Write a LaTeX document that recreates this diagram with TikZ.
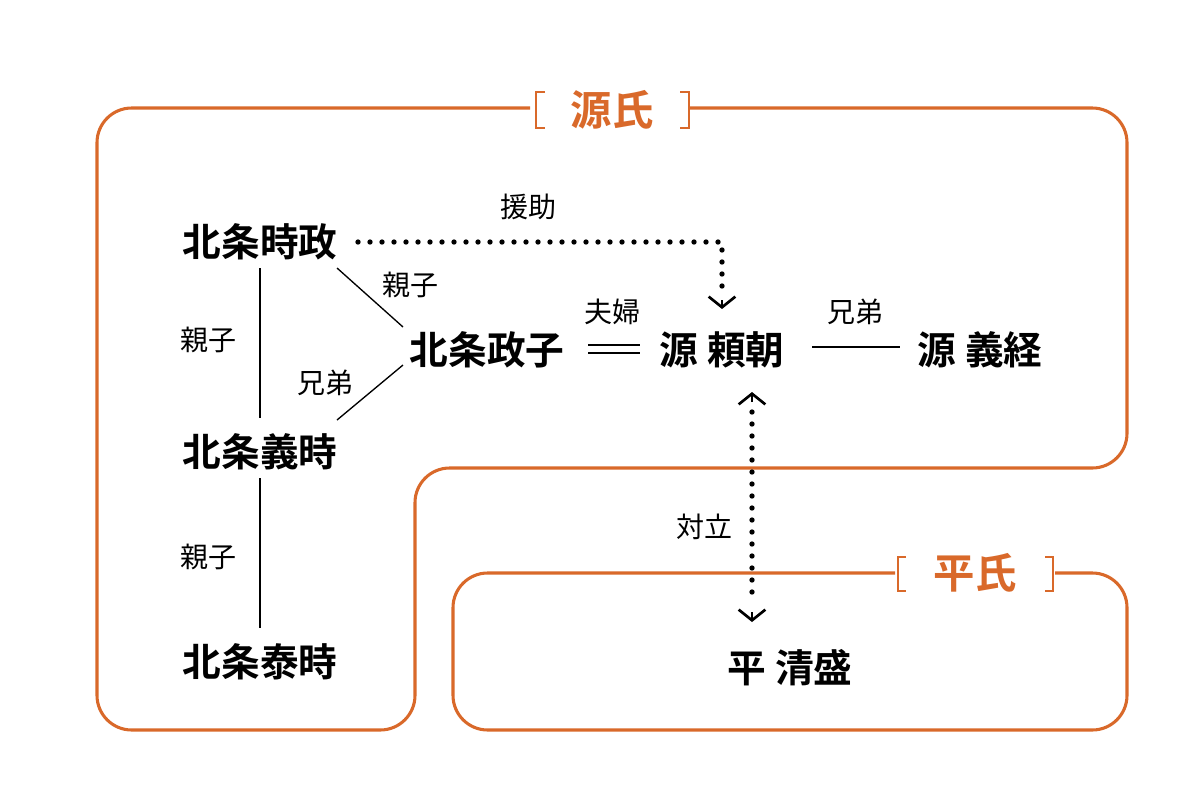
\documentclass[tikz,border=0pt]{standalone}
\usepackage{fontspec}
\setmainfont{Noto Sans CJK JP}[BoldFont={Noto Sans CJK JP Bold}]
\usetikzlibrary{arrows.meta}
\definecolor{og}{HTML}{D9692A}
\begin{document}
\begin{tikzpicture}[x=0.75pt,y=-0.75pt,
  frame/.style={draw=og,line width=2.3pt,rounded corners=26pt},
  brk/.style={draw=og,line width=1.6pt},
  clan/.style={text=og,font=\fontsize{31}{34}\selectfont\bfseries},
  person/.style={font=\fontsize{29}{32}\selectfont\bfseries,inner sep=0pt},
  rel/.style={font=\fontsize{21}{24}\selectfont,inner sep=0pt},
  ln/.style={line width=1pt},
  dots/.style={line width=4pt,line cap=round,dash pattern=on 0pt off 9pt},
  ar/.style={line width=2pt,-{Straight Barb[length=8pt,width=20pt]}}]
\useasboundingbox (0,0) rectangle (1200,800);
% Genji frame
\draw[frame] (690,108) -- (1127,108) -- (1127,468) -- (415,468) -- (415,730) -- (97,730) -- (97,108) -- (530,108);
\draw[brk] (545,92) -- (536,92) -- (536,128) -- (545,128);
\draw[brk] (680,92) -- (689,92) -- (689,128) -- (680,128);
\node[clan] (genji) at (612,110) {源氏};
% Heishi frame
\draw[frame] (1055,573) -- (1127,573) -- (1127,730) -- (453,730) -- (453,573) -- (895,573);
\draw[brk] (906,557) -- (898,557) -- (898,591) -- (906,591);
\draw[brk] (1045,557) -- (1053,557) -- (1053,591) -- (1045,591);
\node[clan] (heishi) at (975,573) {平氏};
% people
\node[person] (tokimasa) at (260,242) {北条時政};
\node[person] (masako) at (487,350) {北条政子};
\node[person] (yoritomo) at (722,350) {源 頼朝};
\node[person] (yoshitsune) at (980,350) {源 義経};
\node[person] (yoshitoki) at (260,452) {北条義時};
\node[person] (yasutoki) at (260,662) {北条泰時};
\node[person] (kiyomori) at (790,668) {平 清盛};
% labels
\node[rel] at (528,207) {援助};
\node[rel] at (410,285) {親子};
\node[rel] at (612,312) {夫婦};
\node[rel] at (855,312) {兄弟};
\node[rel] at (208,340) {親子};
\node[rel] at (325,383) {兄弟};
\node[rel] at (704,527) {対立};
\node[rel] at (208,557) {親子};
% coordinates
\coordinate (a1) at (260,268); \coordinate (a2) at (260,418);
\coordinate (b1) at (260,478); \coordinate (b2) at (260,628);
\coordinate (c1) at (337,268); \coordinate (c2) at (403,327);
\coordinate (d1) at (337,420); \coordinate (d2) at (403,365);
\coordinate (e1) at (588,345); \coordinate (e2) at (640,345);
\coordinate (f1) at (588,353); \coordinate (f2) at (640,353);
\coordinate (g1) at (812,347); \coordinate (g2) at (900,347);
\coordinate (h1) at (358,242); \coordinate (h2) at (722,242); \coordinate (h3) at (722,309);
\coordinate (k1) at (752,392); \coordinate (k2) at (752,622);
\draw[ln] (a1) -- (a2);
\draw[ln] (b1) -- (b2);
\draw[ln] (c1) -- (c2);
\draw[ln] (d1) -- (d2);
\draw[ln] (e1) -- (e2);
\draw[ln] (f1) -- (f2);
\draw[ln] (g1) -- (g2);
\draw[dots] (h1) -- (h2) -- (722,290);
\draw[ar] (722,300) -- (h3);
\draw[dots] (752,412) -- (752,602);
\draw[ar] (752,402) -- (k1);
\draw[ar] (752,612) -- (k2);
\end{tikzpicture}
\end{document}
